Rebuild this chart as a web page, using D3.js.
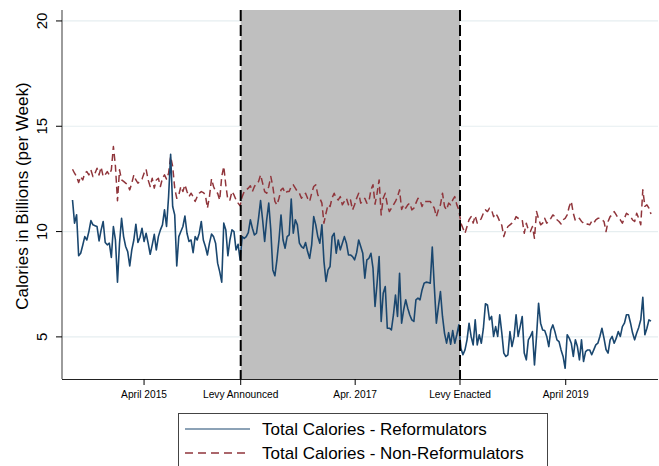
<!DOCTYPE html>
<html>
<head>
<meta charset="utf-8">
<script src="https://cdn.jsdelivr.net/npm/d3@7/dist/d3.min.js"></script>
<style>
  html, body { margin: 0; padding: 0; background: #fff; }
  svg { display: block; font-family: "Liberation Sans", Arial, Helvetica, sans-serif; }
</style>
</head>
<body>
<svg id="chart" width="659" height="466"></svg>
<script>
// Weekly total calories (billions), first week beginning 18 Aug 2014
const firstWeek = "2014-08-18";

const reformulators = [
  11.5, 10.4, 10.8, 8.85, 8.97, 9.35, 9.76, 9.6, 10.0, 10.52,
  10.32, 10.28, 10.24, 9.56, 10.08, 10.48, 9.48, 9.37, 9.45, 8.77,
  10.24, 9.6, 7.6, 9.45, 10.63, 9.76, 9.29, 9.05, 8.37, 9.13,
  9.6, 10.35, 9.48, 9.73, 10.16, 9.53, 9.92, 9.45, 8.92, 9.37,
  9.87, 9.13, 9.76, 10.08, 10.32, 11.03, 10.24, 11.66, 13.67, 11.19,
  10.79, 8.37, 9.76, 10.0, 10.24, 10.74, 9.92, 9.53, 9.6, 9.0,
  9.76, 9.6, 9.92, 10.48, 9.6, 9.29, 8.89, 9.45, 9.88, 9.76,
  9.45, 8.5, 8.1, 7.6, 10.4, 10.08, 8.85, 9.6, 10.08, 10.0,
  9.13, 9.4, 8.65, 9.76, 9.68, 9.76, 9.95, 10.56, 10.16, 9.84,
  9.92, 10.63, 11.47, 10.56, 9.53, 10.56, 11.35, 10.08, 8.18, 7.9,
  8.66, 9.6, 10.79, 9.6, 9.21, 9.76, 9.84, 11.54, 9.92, 10.56,
  10.32, 9.45, 9.29, 9.21, 9.48, 9.05, 8.73, 9.37, 10.71, 10.32,
  9.76, 9.45, 10.32, 8.6, 7.63, 8.18, 8.34, 9.76, 9.92, 8.97,
  9.6, 9.13, 9.45, 9.76, 9.45, 8.89, 8.89, 8.81, 8.66, 9.0,
  9.6, 9.29, 8.97, 7.79, 8.66, 8.73, 8.97, 8.26, 6.44, 7.55,
  8.81, 5.73, 7.07, 7.39, 5.41, 5.41, 5.33, 6.04, 6.99, 5.97,
  8.02, 5.65, 6.28, 6.76, 6.36, 6.04, 5.81, 5.73, 6.76, 6.84,
  6.76, 7.23, 7.55, 7.6, 7.58, 7.55, 9.26, 7.39, 5.65, 6.44,
  7.15, 5.97, 5.17, 4.7, 5.2, 4.65, 5.3, 4.7, 5.1, 5.57,
  4.46, 4.15, 4.38, 4.86, 5.65, 5.02, 4.62, 5.81, 4.62, 5.1,
  4.7, 5.4, 6.57, 6.52, 5.81, 5.97, 5.02, 5.49, 5.02, 6.05,
  5.2, 4.23, 4.07, 4.15, 5.25, 4.54, 5.0, 6.05, 5.02, 5.49,
  5.97, 4.23, 3.91, 4.86, 5.02, 5.25, 3.67, 5.02, 6.6, 5.65,
  5.33, 5.3, 5.02, 4.54, 5.33, 5.57, 5.25, 4.86, 4.78, 4.38,
  4.07, 3.51, 5.1, 4.94, 4.7, 4.07, 4.86, 4.54, 3.91, 4.86,
  3.83, 4.3, 4.38, 4.38, 4.15, 4.38, 4.62, 4.7, 5.02, 5.41,
  4.94, 4.4, 4.23, 4.86, 5.02, 4.7, 4.94, 5.25, 5.02, 5.49,
  5.65, 6.05, 6.05, 5.65, 5.18, 4.86, 5.18, 5.45, 5.81, 6.88,
  5.1, 5.41, 5.81, 5.75
];

const nonReformulators = [
  12.96, 12.77, 12.61, 12.33, 12.61, 12.45, 12.77, 12.85, 12.69, 12.93,
  12.61, 12.77, 13.01, 12.69, 13.06, 12.61, 12.7, 12.85, 12.69, 12.93,
  14.04, 13.1, 11.46, 12.93, 12.45, 12.38, 12.3, 12.22, 11.98, 12.3,
  12.69, 12.45, 12.3, 12.38, 12.49, 12.77, 12.96, 12.45, 12.14, 12.53,
  12.06, 12.45, 12.53, 12.14, 12.53, 12.69, 12.49, 12.77, 13.56, 13.09,
  12.06, 11.58, 11.74, 12.14, 11.9, 12.22, 11.9, 11.66, 11.82, 11.66,
  11.43, 11.66, 11.82, 11.9, 11.85, 11.74, 11.11, 11.66, 12.5, 12.14,
  11.9, 11.82, 11.5, 12.61, 13.09, 12.2, 11.5, 11.5, 11.9, 11.74,
  11.5, 11.35, 11.23, 11.66, 11.9, 11.98, 12.06, 12.17, 11.9, 12.14,
  12.3, 12.37, 12.69, 12.3, 11.9, 11.82, 12.14, 12.61, 12.14, 11.43,
  11.27, 11.58, 11.98, 12.06, 11.82, 11.9, 11.9, 12.14, 12.22, 12.06,
  11.9, 11.82, 11.58, 11.74, 11.82, 11.58, 11.43, 11.82, 12.14, 12.22,
  11.74, 11.58, 11.35, 10.4, 10.87, 11.27, 11.19, 11.6, 11.82, 11.58,
  11.5, 11.66, 11.27, 11.43, 11.58, 11.27, 11.5, 11.03, 11.27, 11.58,
  11.82, 11.35, 11.43, 11.58, 11.35, 11.43, 11.98, 12.22, 11.3, 11.82,
  12.45, 10.79, 11.58, 11.82, 11.27, 10.95, 11.11, 11.27, 11.43, 11.66,
  11.98, 11.05, 11.27, 11.11, 11.27, 11.35, 11.03, 11.11, 11.35, 11.58,
  11.5, 11.19, 11.43, 11.43, 11.43, 11.43, 11.27, 11.11, 10.71, 11.03,
  11.27, 11.82, 11.19, 11.03, 11.35, 11.27, 11.5, 11.66, 11.27, 11.03,
  10.4, 10.16, 9.92, 10.24, 10.56, 10.71, 10.4, 10.75, 10.4, 10.48,
  10.63, 10.87, 11.03, 10.95, 11.11, 11.03, 10.71, 10.87, 10.71, 10.48,
  10.3, 9.76, 10.08, 10.24, 10.32, 10.4, 10.48, 10.71, 10.63, 10.59,
  10.56, 9.92, 10.4, 10.08, 10.0, 10.24, 9.68, 10.95, 10.6, 10.32,
  10.4, 10.63, 10.4, 10.48, 10.63, 10.79, 10.71, 10.56, 10.48, 10.36,
  10.56, 10.63, 10.79, 11.19, 11.43, 10.87, 10.52, 10.56, 10.63, 10.48,
  10.4, 10.32, 10.36, 10.32, 10.48, 10.4, 10.56, 10.63, 10.63, 10.56,
  10.48, 10.0, 10.48, 10.71, 10.79, 10.95, 10.79, 10.63, 10.56, 10.4,
  10.63, 10.87, 10.79, 10.71, 10.55, 10.48, 10.87, 10.63, 10.32, 11.98,
  11.2, 11.27, 11.11, 10.83
];

// Policy dates: announcement and enactment of the levy
const levyAnnounced = "2016-03-16";
const levyEnacted = "2018-04-06";

// x-axis ticks
const tickDates = ["2015-04-20", "2016-03-16", "2017-04-12", "2018-04-06", "2019-04-03"];
const tickLabels = ["April 2015", "Levy Announced", "Apr. 2017", "Levy Enacted", "April 2019"];

// y-axis ticks
const yTicks = [5, 10, 15, 20];

const seriesNames = ["Total Calories - Reformulators", "Total Calories - Non-Reformulators"];
const seriesColors = ["#1a476f", "#90353b"];

const parse = d3.utcParse("%Y-%m-%d");
const start = parse(firstWeek);
const weekDate = i => d3.utcDay.offset(start, 7 * i);

const plot = { left: 62, right: 658, top: 10, bottom: 379 };

const x = d3.scaleUtc()
  .domain([parse("2014-07-13"), parse("2020-02-13")])
  .range([plot.left, plot.right]);

const y = d3.scaleLinear()
  .domain([3.0, 20.52])
  .range([plot.bottom, plot.top]);

const svg = d3.select("#chart");

// horizontal gridlines
svg.append("g")
  .selectAll("line")
  .data(yTicks)
  .join("line")
  .attr("x1", plot.left)
  .attr("x2", plot.right)
  .attr("y1", d => y(d))
  .attr("y2", d => y(d))
  .attr("stroke", "#e6eef0")
  .attr("stroke-width", 1.2);

// shaded period between announcement and enactment
svg.append("rect")
  .attr("x", x(parse(levyAnnounced)))
  .attr("y", plot.top)
  .attr("width", x(parse(levyEnacted)) - x(parse(levyAnnounced)))
  .attr("height", plot.bottom - plot.top)
  .attr("fill", "#bfbfbf");

// series lines
const line = d3.line()
  .x((d, i) => x(weekDate(i)))
  .y(d => y(d));

svg.append("path")
  .datum(nonReformulators)
  .attr("d", line)
  .attr("fill", "none")
  .attr("stroke", seriesColors[1])
  .attr("stroke-width", 1.5)
  .attr("stroke-dasharray", "7,4")
  .attr("stroke-linejoin", "round");

svg.append("path")
  .datum(reformulators)
  .attr("d", line)
  .attr("fill", "none")
  .attr("stroke", seriesColors[0])
  .attr("stroke-width", 1.6)
  .attr("stroke-linejoin", "round");

// dashed reference lines at the two policy dates
svg.append("g")
  .selectAll("line")
  .data([levyAnnounced, levyEnacted])
  .join("line")
  .attr("x1", d => x(parse(d)))
  .attr("x2", d => x(parse(d)))
  .attr("y1", plot.top)
  .attr("y2", plot.bottom)
  .attr("stroke", "#000")
  .attr("stroke-width", 2)
  .attr("stroke-dasharray", "11,4");

// y axis
const yAxis = svg.append("g");
yAxis.append("line")
  .attr("x1", plot.left).attr("x2", plot.left)
  .attr("y1", plot.top).attr("y2", plot.bottom)
  .attr("stroke", "#666").attr("stroke-width", 1.3);
yAxis.selectAll("line.tick")
  .data(yTicks)
  .join("line")
  .attr("class", "tick")
  .attr("x1", plot.left - 6).attr("x2", plot.left)
  .attr("y1", d => y(d)).attr("y2", d => y(d))
  .attr("stroke", "#000").attr("stroke-width", 1);
yAxis.selectAll("text")
  .data(yTicks)
  .join("text")
  .attr("transform", d => `translate(47,${y(d)}) rotate(-90)`)
  .attr("text-anchor", "middle")
  .attr("font-size", 15)
  .attr("fill", "#000")
  .text(d => d);

svg.append("text")
  .attr("transform", `translate(28,196) rotate(-90)`)
  .attr("text-anchor", "middle")
  .attr("font-size", 17)
  .attr("fill", "#000")
  .text("Calories in Billions (per Week)");

// x axis
const xAxis = svg.append("g");
xAxis.append("line")
  .attr("x1", plot.left).attr("x2", plot.right)
  .attr("y1", plot.bottom + 0.5).attr("y2", plot.bottom + 0.5)
  .attr("stroke", "#222").attr("stroke-width", 1.2);
xAxis.selectAll("line.tick")
  .data(tickDates)
  .join("line")
  .attr("class", "tick")
  .attr("x1", d => x(parse(d))).attr("x2", d => x(parse(d)))
  .attr("y1", plot.bottom).attr("y2", plot.bottom + 6)
  .attr("stroke", "#000").attr("stroke-width", 1);
xAxis.selectAll("text")
  .data(tickDates)
  .join("text")
  .attr("x", d => x(parse(d)))
  .attr("y", 398)
  .attr("text-anchor", "middle")
  .attr("font-size", 10.2)
  .attr("fill", "#000")
  .text((d, i) => tickLabels[i]);

// legend
const legend = svg.append("g");
legend.append("rect")
  .attr("x", 178.5).attr("y", 413.5)
  .attr("width", 369).attr("height", 70)
  .attr("fill", "#fff")
  .attr("stroke", "#444").attr("stroke-width", 1);
const rows = [429, 453];
legend.selectAll("line")
  .data(seriesNames)
  .join("line")
  .attr("x1", 185).attr("x2", 250)
  .attr("y1", (d, i) => rows[i]).attr("y2", (d, i) => rows[i])
  .attr("stroke", (d, i) => seriesColors[i])
  .attr("stroke-width", (d, i) => i === 0 ? 1.2 : 1.5)
  .attr("stroke-dasharray", (d, i) => i === 0 ? null : "8,5");
legend.selectAll("text")
  .data(seriesNames)
  .join("text")
  .attr("x", 262)
  .attr("y", (d, i) => rows[i] + 6)
  .attr("font-size", 17)
  .attr("fill", "#000")
  .text(d => d);
</script>
</body>
</html>
